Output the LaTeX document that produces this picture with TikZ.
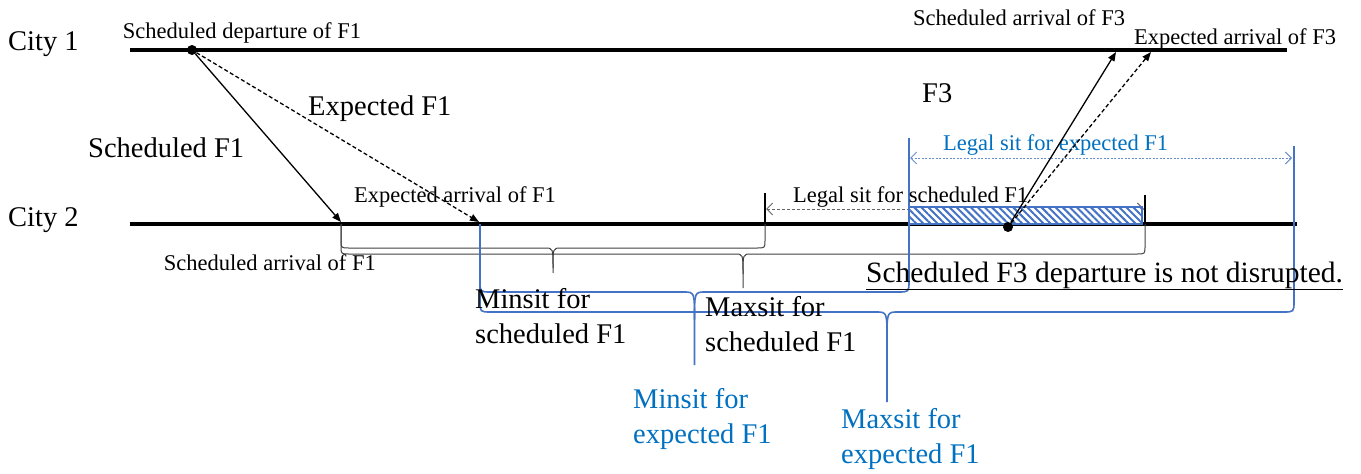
\documentclass[tikz,border=0pt]{standalone}
\usepackage{fontspec}
\setmainfont{Liberation Serif}
\usetikzlibrary{arrows.meta,patterns.meta}
\definecolor{sitblue}{RGB}{68,114,196}
\definecolor{textblue}{RGB}{0,112,192}
\tikzset{
  cityline/.style={line width=3.6pt, black},
  flightarrow/.style={-{Triangle[length=9pt,width=7pt]}, line width=1.3pt},
  expectarrow/.style={flightarrow, dash pattern=on 4pt off 2.5pt},
  eventdot/.style={circle, fill=black, inner sep=0pt, minimum size=10pt},
  smalllabel/.style={font=\fontsize{22.5}{26}\selectfont, inner sep=0pt},
  biglabel/.style={font=\fontsize{28.5}{35}\selectfont, inner sep=0pt, align=left},
  bluelabel/.style={biglabel, text=textblue},
  sittick/.style={line width=1.6pt},
  bluetick/.style={line width=2pt, sitblue},
  sitspan/.style={{Straight Barb[length=6pt,width=12pt]}-{Straight Barb[length=6pt,width=12pt]}, line width=0.9pt, gray!80!black, dash pattern=on 3pt off 2pt},
  bluespan/.style={sitspan, sitblue!80, dash pattern=on 2pt off 1.5pt},
  bracket/.style={line width=1pt, black!75},
  bluebracket/.style={line width=1.6pt, sitblue},
  hatchbox/.style={draw=sitblue, line width=2pt, preaction={fill=white}, pattern={Lines[angle=-45,distance=5pt,line width=2pt]}, pattern color=sitblue}
}
% brace hanging below City 2: style, left x, right x, bar y, tip y, curl
\newcommand{\sitbrace}[6][bracket]{%
  \draw[#1] (#2,224) -- (#2,{#4-#6}) .. controls (#2,#4) .. ({#2+#6},#4)
    -- ({(#2+#3)/2-#6},#4) .. controls ({(#2+#3)/2},#4) .. ({(#2+#3)/2},{#4+2.5*#6})
    -- ({(#2+#3)/2},#5);
  \draw[#1] ({(#2+#3)/2},{#4+2.5*#6}) .. controls ({(#2+#3)/2},#4) .. ({(#2+#3)/2+#6},#4)
    -- ({#3-#6},#4) .. controls (#3,#4) .. (#3,{#4-#6}) -- (#3,224);
}

\begin{document}
\begin{tikzpicture}[x=1pt, y=-1pt]
  \useasboundingbox (0,0) rectangle (1361,474);
  % the two cities
  \coordinate (c1w) at (130,50);
  \coordinate (c1e) at (1287,50);
  \coordinate (c2w) at (130,224);
  \coordinate (c2e) at (1297,224);
  \draw[cityline] (c1w) -- (c1e);
  \draw[cityline] (c2w) -- (c2e);
  \node[biglabel, anchor=base west] (city1) at (8,50) {City 1};
  \node[biglabel, anchor=base west] (city2) at (8,226) {City 2};

  % legal sit windows
  \coordinate (smin) at (765,224);
  \coordinate (smax) at (1145,224);
  \coordinate (emin) at (909,224);
  \coordinate (emax) at (1294,226);
  \draw[sittick] (smin) -- (765,193);
  \draw[sittick] (smax) -- (1145,195);
  \coordinate (sspanw) at (766,209);
  \coordinate (sspane) at (1144,209);
  \draw[sitspan] (sspanw) -- (sspane);
  \draw[hatchbox] (909,207) rectangle (1142,224);
  \draw[bluetick] (emin) -- (909,138);
  \draw[bluetick] (emax) -- (1294,146);
  \coordinate (espanw) at (910,158);
  \coordinate (espane) at (1292,158);
  \draw[bluespan] (espanw) -- (espane);
  \node[smalllabel, anchor=base west] (slegal) at (793,202) {Legal sit for scheduled F1};
  \node[smalllabel, text=textblue, anchor=base west] (elegal) at (943,150) {Legal sit for expected F1};

  % flights
  \node[eventdot] (dep1) at (192,50) {};
  \coordinate (sarr1) at (341,222);
  \coordinate (earr1) at (479,222);
  \node[eventdot] (dep3) at (1008,227) {};
  \coordinate (sarr3) at (1116,52);
  \coordinate (earr3) at (1151,52);
  \draw[flightarrow] (dep1) -- (sarr1);
  \draw[expectarrow] (dep1) -- (earr1);
  \draw[flightarrow] (dep3) -- (sarr3);
  \draw[expectarrow] (dep3) -- (earr3);
  \node[smalllabel, anchor=base] (dep1lbl) at (242,38) {Scheduled departure of F1};
  \node[smalllabel, anchor=base] (earr1lbl) at (455,202) {Expected arrival of F1};
  \node[smalllabel, anchor=base east] (sarr1lbl) at (376,270) {Scheduled arrival of F1};
  \node[smalllabel, anchor=base west] (sarr3lbl) at (913,25) {Scheduled arrival of F3};
  \node[smalllabel, anchor=base west] (earr3lbl) at (1134,44) {Expected arrival of F3};
  \node[biglabel, anchor=base west] (schedf1) at (88,157) {Scheduled F1};
  \node[biglabel, anchor=base west] (expf1) at (308,115) {Expected F1};
  \node[biglabel, anchor=base west] (f3) at (922,102) {F3};

  % sit braces
  \sitbrace{341}{765}{248}{273}{8}
  \sitbrace{341}{1145}{254}{288}{8}
  \sitbrace[bluebracket]{480}{909}{292}{365}{11}
  \sitbrace[bluebracket]{480}{1294}{312}{402}{11}
  \node[biglabel, anchor=base west] (minsched) at (475,343) {Minsit for\\scheduled F1};
  \node[biglabel, anchor=base west] (maxsched) at (705,351) {Maxsit for\\scheduled F1};
  \node[bluelabel, anchor=base west] (minexp) at (633,443) {Minsit for\\expected F1};
  \node[bluelabel, anchor=base west] (maxexp) at (841,463) {Maxsit for\\expected F1};

  \node[font=\fontsize{29.5}{34}\selectfont, inner sep=0pt, anchor=base west] (verdict) at (866,282) {\underline{Scheduled F3 departure is not disrupted.}};
\end{tikzpicture}
\end{document}
